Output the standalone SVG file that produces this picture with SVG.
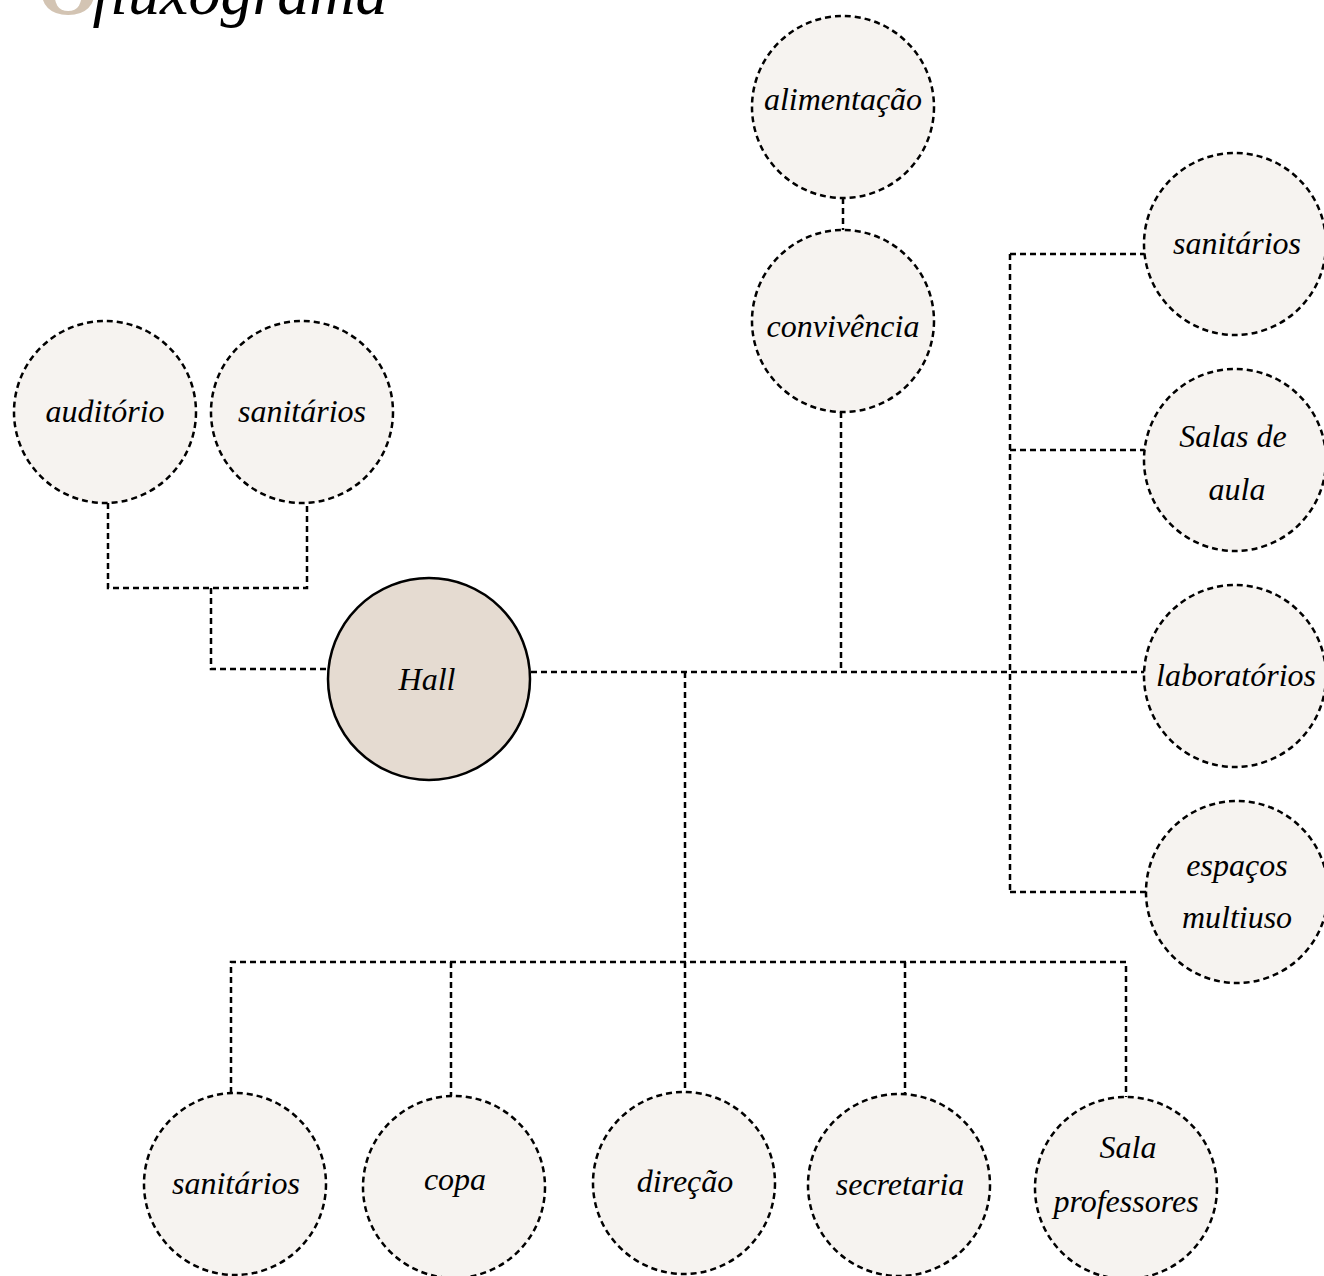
<svg xmlns="http://www.w3.org/2000/svg" width="1324" height="1276" viewBox="0 0 1324 1276">
<style>
.n{fill:#f6f3f0;stroke:#000;stroke-width:2.5;stroke-dasharray:6 4}
.h{fill:#e5dbd1;stroke:#000;stroke-width:2.5}
.c{fill:none;stroke:#000;stroke-width:2.5;stroke-dasharray:6 4}
text{font-family:"Liberation Serif","DejaVu Serif",serif;font-style:italic;font-size:32px;fill:#000;text-anchor:middle}
</style>
<rect width="1324" height="1276" fill="#fff"/>
<g id="title">
<text x="68" y="14" style="font-size:80px;fill:#d3c4b3;font-style:normal;font-weight:bold">O</text>
<text x="240" y="14" style="font-size:64px">fluxograma</text>
</g>
<g id="connectors">
<path class="c" d="M108 503V588H307V503M211 588V669H327"/>
<path class="c" d="M531 672H1145"/>
<path class="c" d="M841 412V672"/>
<path class="c" d="M843 198V230"/>
<path class="c" d="M1010 254V892M1010 254H1145M1010 450H1145M1010 892H1147"/>
<path class="c" d="M685 672V1093"/>
<path class="c" d="M231 1093V962H1126V1098M451 962V1097M905 962V1095"/>
</g>
<g id="alimentacao"><circle class="n" cx="843" cy="107" r="91"/><text x="843" y="110">alimentação</text></g>
<g id="convivencia"><circle class="n" cx="843" cy="321" r="91"/><text x="843" y="337">convivência</text></g>
<g id="sanitarios-direita"><circle class="n" cx="1235" cy="244" r="91"/><text x="1237" y="254">sanitários</text></g>
<g id="salas-de-aula"><circle class="n" cx="1235" cy="460" r="91"/><text x="1233" y="447">Salas de</text><text x="1237" y="500">aula</text></g>
<g id="laboratorios"><circle class="n" cx="1235" cy="676" r="91"/><text x="1236" y="686">laboratórios</text></g>
<g id="espacos-multiuso"><circle class="n" cx="1237" cy="892" r="91"/><text x="1237" y="876">espaços</text><text x="1237" y="928">multiuso</text></g>
<g id="auditorio"><circle class="n" cx="105" cy="412" r="91"/><text x="105" y="422">auditório</text></g>
<g id="sanitarios-esquerda"><circle class="n" cx="302" cy="412" r="91"/><text x="302" y="422">sanitários</text></g>
<g id="hall"><circle class="h" cx="429" cy="679" r="101"/><text x="427" y="690">Hall</text></g>
<g id="sanitarios-baixo"><circle class="n" cx="235" cy="1184" r="91"/><text x="236" y="1194">sanitários</text></g>
<g id="copa"><circle class="n" cx="454" cy="1187" r="91"/><text x="455" y="1190">copa</text></g>
<g id="direcao"><circle class="n" cx="684" cy="1183" r="91"/><text x="685" y="1192">direção</text></g>
<g id="secretaria"><circle class="n" cx="899" cy="1185" r="91"/><text x="900" y="1195">secretaria</text></g>
<g id="sala-professores"><circle class="n" cx="1126" cy="1188" r="91"/><text x="1128" y="1158">Sala</text><text x="1126" y="1212">professores</text></g>
</svg>
